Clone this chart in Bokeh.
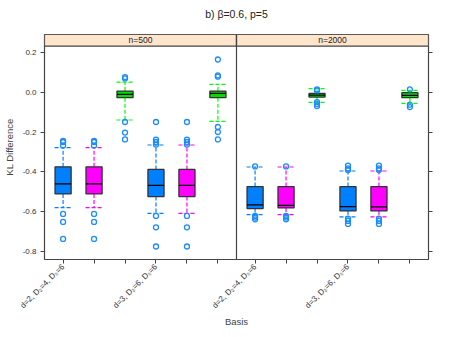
import math
from bokeh.plotting import figure
from bokeh.models import (FixedTicker, LinearAxis, Range1d, ColumnDataSource, Title,
                          NumeralTickFormatter, CustomLabelingPolicy)
from bokeh.embed import file_html
from bokeh.resources import INLINE
from bokeh.core.properties import value

# ---------------- data ----------------
panels = ["n=500", "n=2000"]
positions = [1, 2, 3, 4, 5, 6]
basis_labels = ["d=2, D\u2082=4, D\u2083=6", "", "", "d=3, D\u2082=6, D\u2083=6", "", ""]
fill_colors = ["#0080ff", "#ff00ff", "#00dd00", "#0080ff", "#ff00ff", "#00dd00"]
whisker_colors = ["#0080ff", "#ff00ff", "#00ff00", "#0080ff", "#ff00ff", "#00ff00"]

# n=500
lo_500 = [-0.578, -0.578, -0.140, -0.607, -0.607, -0.147]
q1_500 = [-0.510, -0.510, -0.028, -0.523, -0.523, -0.028]
med_500 = [-0.460, -0.460, -0.012, -0.467, -0.467, -0.007]
q3_500 = [-0.374, -0.374, 0.005, -0.387, -0.387, 0.005]
hi_500 = [-0.278, -0.278, 0.050, -0.265, -0.265, 0.038]
out_500 = [
    [-0.245, -0.250, -0.268, -0.610, -0.650, -0.735],
    [-0.245, -0.250, -0.268, -0.610, -0.650, -0.735],
    [0.075, 0.068, -0.150, -0.203, -0.237],
    [-0.150, -0.238, -0.250, -0.263, -0.620, -0.677, -0.773],
    [-0.150, -0.238, -0.250, -0.263, -0.620, -0.677, -0.773],
    [0.163, 0.083, 0.077, -0.175, -0.200, -0.237],
]

# n=2000
lo_2000 = [-0.613, -0.613, -0.052, -0.625, -0.625, -0.057]
q1_2000 = [-0.583, -0.580, -0.025, -0.595, -0.595, -0.028]
med_2000 = [-0.565, -0.567, -0.015, -0.573, -0.575, -0.017]
q3_2000 = [-0.473, -0.473, -0.007, -0.473, -0.473, -0.003]
hi_2000 = [-0.375, -0.375, 0.017, -0.395, -0.395, 0.008]
out_2000 = [
    [-0.372, -0.620, -0.628, -0.637],
    [-0.372, -0.620, -0.628, -0.637],
    [0.013, 0.008, -0.050, -0.060, -0.070],
    [-0.368, -0.382, -0.390, -0.633, -0.645, -0.660],
    [-0.368, -0.382, -0.390, -0.633, -0.645, -0.660],
    [0.013, -0.063, -0.075],
]

y_ticks = [-0.8, -0.6, -0.4, -0.2, 0.0, 0.2]

# ---------------- layout constants ----------------
PANEL_W = 6.2          # width of one panel in x units (0.4 .. 6.6)
X0 = 0.4
Y_BOTTOM = -0.838
Y_PANEL_TOP = 0.23
Y_STRIP_TOP = 0.288
BOX_W = 0.52
CAP_W = 0.55
FONT = "Liberation Sans"

p = figure(output_backend="svg", toolbar_location=None,
           frame_width=384, frame_height=225,
           x_range=Range1d(X0, X0 + 2 * PANEL_W),
           y_range=Range1d(Y_BOTTOM, Y_STRIP_TOP),
           min_border_left=35, min_border_right=15, min_border_top=33, min_border_bottom=60)
p.xgrid.visible = False
p.ygrid.visible = False
p.outline_line_color = "#444444"
p.outline_line_width = 1.2
p.background_fill_color = "white"
p.border_fill_color = "white"

stats = [
    (lo_500, q1_500, med_500, q3_500, hi_500, out_500),
    (lo_2000, q1_2000, med_2000, q3_2000, hi_2000, out_2000),
]

tick_xs = []
overrides = {}
keep_idx = []
for k, (lo, q1, med, q3, hi, outs) in enumerate(stats):
    off = k * PANEL_W
    xs = [pos + off for pos in positions]
    for x, lab in zip(xs, basis_labels):
        if lab:
            keep_idx.append(len(tick_xs))
            overrides[x] = lab
        tick_xs.append(x)
    src = ColumnDataSource(dict(x=xs, lo=lo, q1=q1, med=med, q3=q3, hi=hi,
                                fill=fill_colors, wc=whisker_colors,
                                cl=[x - CAP_W / 2 for x in xs], cr=[x + CAP_W / 2 for x in xs],
                                bl=[x - BOX_W / 2 for x in xs], br=[x + BOX_W / 2 for x in xs]))
    # whiskers
    p.segment(x0="x", y0="q3", x1="x", y1="hi", source=src, line_color="wc",
              line_dash="4 2", line_width=1.2)
    p.segment(x0="x", y0="q1", x1="x", y1="lo", source=src, line_color="wc",
              line_dash="4 2", line_width=1.2)
    p.segment(x0="cl", y0="hi", x1="cr", y1="hi", source=src, line_color="wc",
              line_dash="4 2", line_width=1.2)
    p.segment(x0="cl", y0="lo", x1="cr", y1="lo", source=src, line_color="wc",
              line_dash="4 2", line_width=1.2)
    # boxes
    p.quad(left="bl", right="br", bottom="q1", top="q3", source=src,
           fill_color="fill", line_color="#333333", line_width=1.3)
    p.segment(x0="bl", y0="med", x1="br", y1="med", source=src,
              line_color="black", line_width=1.3)
    # outliers
    ox, oy = [], []
    for x, o in zip(xs, outs):
        ox += [x] * len(o)
        oy += o
    p.scatter(ox, oy, marker="circle", size=5, fill_color=None,
              line_color="#1a8cff", line_width=1.3)

# strips
strip_src = ColumnDataSource(dict(
    left=[X0 + i * PANEL_W for i in range(len(panels))],
    right=[X0 + (i + 1) * PANEL_W for i in range(len(panels))],
    xc=[X0 + (i + 0.5) * PANEL_W for i in range(len(panels))],
    lab=panels))
p.quad(left="left", right="right", bottom=Y_PANEL_TOP, top=Y_STRIP_TOP, source=strip_src,
       fill_color="#ffe5cc", line_color="#444444", line_width=1.2)
p.text(x="xc", y=(Y_PANEL_TOP + Y_STRIP_TOP) / 2, text="lab", source=strip_src,
       text_align="center", text_baseline="middle", text_font=value(FONT),
       text_font_size="8.5px", text_color="#222222")
# panel divider
p.segment(x0=[X0 + PANEL_W], y0=[Y_BOTTOM], x1=[X0 + PANEL_W], y1=[Y_STRIP_TOP],
          line_color="#444444", line_width=1.2)

keep_policy = CustomLabelingPolicy(args=dict(keep=keep_idx), code="""
    const drop = [];
    for (const i of indices) { if (!keep.includes(i)) drop.push(i); }
    for (const i of drop) indices.unset(i);
    return indices;
""")
none_policy = CustomLabelingPolicy(code="""
    const drop = [];
    for (const i of indices) drop.push(i);
    for (const i of drop) indices.unset(i);
    return indices;
""")

# axes styling
xa = p.xaxis[0]
xa.ticker = FixedTicker(ticks=tick_xs)
xa.major_label_overrides = overrides
xa.major_label_policy = keep_policy
xa.major_label_orientation = math.pi / 4
xa.axis_line_color = None
xa.minor_tick_line_color = None
xa.major_tick_in = 0
xa.major_tick_out = 4
xa.major_tick_line_color = "#444444"
xa.major_label_text_font = FONT
xa.major_label_text_font_size = "8px"
xa.major_label_text_color = "#333333"
xa.major_label_standoff = 2
xa.axis_label = "Basis"
xa.axis_label_text_font = FONT
xa.axis_label_text_font_style = "normal"
xa.axis_label_text_font_size = "9.5px"
xa.axis_label_standoff = 0

ya = p.yaxis[0]
ya.ticker = FixedTicker(ticks=y_ticks)
ya.formatter = NumeralTickFormatter(format="0.0")
ya.axis_line_color = None
ya.minor_tick_line_color = None
ya.major_tick_in = 0
ya.major_tick_out = 4
ya.major_tick_line_color = "#444444"
ya.major_label_text_font = FONT
ya.major_label_text_font_size = "8px"
ya.major_label_text_color = "#333333"
ya.major_label_standoff = 4
ya.axis_label = "KL Difference"
ya.axis_label_text_font = FONT
ya.axis_label_text_font_style = "normal"
ya.axis_label_text_font_size = "9.5px"
ya.axis_label_standoff = 5

ra = LinearAxis(ticker=FixedTicker(ticks=y_ticks))
ra.axis_line_color = None
ra.minor_tick_line_color = None
ra.major_tick_in = 0
ra.major_tick_out = 4
ra.major_tick_line_color = "#444444"
ra.major_label_policy = none_policy
ra.major_label_text_font_size = "8px"
p.add_layout(ra, "right")

# title
p.title = Title(text="b) \u03b2=0.6, p=5\n", align="center",
                text_font=FONT, text_font_size="10.5px", text_font_style="normal",
                text_line_height=0.8, text_color="#222222")

open("out.html", "w").write(file_html(p, INLINE))
